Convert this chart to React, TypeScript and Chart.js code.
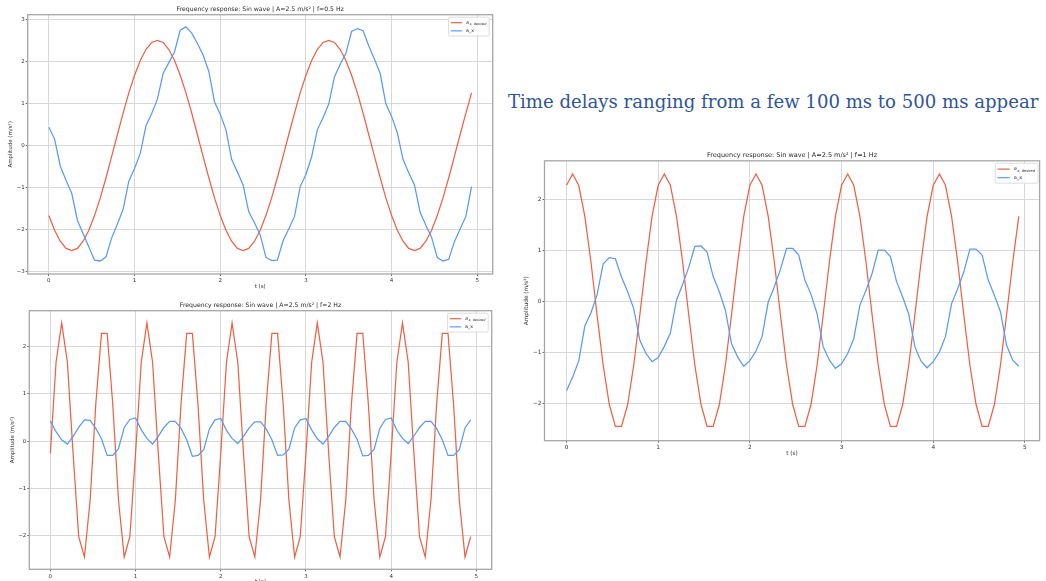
import React, { useEffect, useRef } from 'react';
import { Chart, registerables } from 'chart.js';
Chart.register(...registerables);

// sample times (s), 15 Hz sampling
const T = [0,0.067,0.133,0.2,0.267,0.333,0.4,0.467,0.533,0.6,0.667,0.733,0.8,0.867,0.933,
  1,1.067,1.133,1.2,1.267,1.333,1.4,1.467,1.533,1.6,1.667,1.733,1.8,1.867,1.933,
  2,2.067,2.133,2.2,2.267,2.333,2.4,2.467,2.533,2.6,2.667,2.733,2.8,2.867,2.933,
  3,3.067,3.133,3.2,3.267,3.333,3.4,3.467,3.533,3.6,3.667,3.733,3.8,3.867,3.933,
  4,4.067,4.133,4.2,4.267,4.333,4.4,4.467,4.533,4.6,4.667,4.733,4.8,4.867,4.933];

// f = 0.5 Hz
const DESIRED_05 = [
  -1.67,-2.02,-2.28,-2.45,-2.5,-2.45,-2.28,-2.02,-1.67,-1.25,-0.77,-0.26,0.26,0.77,1.25,
  1.67,2.02,2.28,2.45,2.5,2.45,2.28,2.02,1.67,1.25,0.77,0.26,-0.26,-0.77,-1.25,
  -1.67,-2.02,-2.28,-2.45,-2.5,-2.45,-2.28,-2.02,-1.67,-1.25,-0.77,-0.26,0.26,0.77,1.25,
  1.67,2.02,2.28,2.45,2.5,2.45,2.28,2.02,1.67,1.25,0.77,0.26,-0.26,-0.77,-1.25,
  -1.67,-2.02,-2.28,-2.45,-2.5,-2.45,-2.28,-2.02,-1.67,-1.25,-0.77,-0.26,0.26,0.77,1.25];
const AX_05 = [
  0.43,0.15,-0.49,-0.83,-1.14,-1.78,-2.1,-2.42,-2.73,-2.75,-2.65,-2.2,-1.87,-1.52,-0.85,
  -0.55,-0.19,0.46,0.76,1.1,1.71,1.97,2.23,2.74,2.82,2.67,2.43,2.15,1.76,1.04,
  0.74,0.37,-0.33,-0.63,-0.94,-1.58,-1.84,-2.13,-2.66,-2.74,-2.73,-2.27,-1.99,-1.69,-0.98,
  -0.69,-0.27,0.37,0.66,0.99,1.63,1.93,2.19,2.71,2.78,2.73,2.37,2.05,1.71,0.99,
  0.69,0.3,-0.33,-0.65,-0.94,-1.59,-1.9,-2.19,-2.67,-2.75,-2.71,-2.29,-1.99,-1.69,-0.98];

// f = 2 Hz
const DESIRED_2 = [
  -0.26,1.67,2.5,1.67,-0.26,-2.02,-2.45,-1.25,0.77,2.28,2.28,0.77,-1.25,-2.45,-2.02,
  -0.26,1.67,2.5,1.67,-0.26,-2.02,-2.45,-1.25,0.77,2.28,2.28,0.77,-1.25,-2.45,-2.02,
  -0.26,1.67,2.5,1.67,-0.26,-2.02,-2.45,-1.25,0.77,2.28,2.28,0.77,-1.25,-2.45,-2.02,
  -0.26,1.67,2.5,1.67,-0.26,-2.02,-2.45,-1.25,0.77,2.28,2.28,0.77,-1.25,-2.45,-2.02,
  -0.26,1.67,2.5,1.67,-0.26,-2.02,-2.45,-1.25,0.77,2.28,2.28,0.77,-1.25,-2.45,-2.02];
const AX_2 = [
  0.43,0.2,0.03,-0.06,0.1,0.29,0.45,0.44,0.27,0.05,-0.3,-0.3,-0.16,0.29,0.46,
  0.49,0.24,0.06,-0.06,0.1,0.29,0.42,0.42,0.27,0.03,-0.32,-0.3,-0.18,0.26,0.45,
  0.48,0.23,0.06,-0.05,0.1,0.28,0.41,0.41,0.26,0.03,-0.3,-0.29,-0.17,0.28,0.45,
  0.48,0.24,0.05,-0.06,0.1,0.29,0.42,0.42,0.26,0.04,-0.31,-0.3,-0.17,0.27,0.46,
  0.49,0.23,0.06,-0.05,0.11,0.29,0.42,0.42,0.27,0.03,-0.3,-0.3,-0.18,0.28,0.45];

// f = 1 Hz
const DESIRED_1 = [
  2.28,2.5,2.28,1.67,0.77,-0.26,-1.25,-2.02,-2.45,-2.45,-2.02,-1.25,-0.26,0.77,1.67,
  2.28,2.5,2.28,1.67,0.77,-0.26,-1.25,-2.02,-2.45,-2.45,-2.02,-1.25,-0.26,0.77,1.67,
  2.28,2.5,2.28,1.67,0.77,-0.26,-1.25,-2.02,-2.45,-2.45,-2.02,-1.25,-0.26,0.77,1.67,
  2.28,2.5,2.28,1.67,0.77,-0.26,-1.25,-2.02,-2.45,-2.45,-2.02,-1.25,-0.26,0.77,1.67,
  2.28,2.5,2.28,1.67,0.77,-0.26,-1.25,-2.02,-2.45,-2.45,-2.02,-1.25,-0.26,0.77,1.67];
const AX_1 = [
  -1.75,-1.48,-1.17,-0.48,-0.22,0.13,0.74,0.86,0.84,0.48,0.19,-0.14,-0.76,-1.02,-1.18,
  -1.1,-0.88,-0.62,0.03,0.34,0.67,1.08,1.09,0.97,0.49,0.19,-0.17,-0.83,-1.09,-1.27,
  -1.16,-0.97,-0.69,-0.01,0.29,0.63,1.04,1.04,0.91,0.42,0.14,-0.24,-0.89,-1.15,-1.31,
  -1.22,-1.02,-0.73,-0.07,0.22,0.55,1.01,1.01,0.88,0.39,0.09,-0.25,-0.89,-1.17,-1.3,
  -1.18,-0.99,-0.69,-0.04,0.25,0.58,1.03,1.03,0.91,0.42,0.12,-0.2,-0.86,-1.15,-1.27];

const X_TICKS = [0, 1, 2, 3, 4, 5];
const Y_TICKS_05 = [-3, -2, -1, 0, 1, 2, 3];
const Y_TICKS_2 = [-2, -1, 0, 1, 2];
const Y_TICKS_1 = [-2, -1, 0, 1, 2];

const TITLE_05 = 'Frequency response: Sin wave | A=2.5 m/s² | f=0.5 Hz';
const TITLE_2 = 'Frequency response: Sin wave | A=2.5 m/s² | f=2 Hz';
const TITLE_1 = 'Frequency response: Sin wave | A=2.5 m/s² | f=1 Hz';
const X_LABEL = 't (s)';
const Y_LABEL = 'Amplitude (m/s²)';
const LEG_DESIRED_MAIN = 'a';
const LEG_DESIRED_SUB = 'x, desired';
const LEG_AX = 'a_x';
const HEADLINE = 'Time delays ranging from a few 100 ms to 500 ms appear';

const RED = '#EE6146';
const BLUE = '#5A9BF0';
const GRID = '#d8d8d8';
const FRAME = '#a6a6a6';
const FONT = '"DejaVu Sans", sans-serif';

const fmt = (v: number) => (v < 0 ? '\u2212' + Math.abs(v) : String(v));

type Cfg = {
  left: number; top: number; width: number; height: number;
  area: { l: number; r: number; t: number; b: number };
  yTitleX: number;
  xMin: number; xMax: number; yMin: number; yMax: number;
  yTicks: number[];
  title: string;
  red: number[]; blue: number[];
  fs: number; legendGap: number;
};

function makeDecor(c: Cfg) {
  return {
    id: 'decor',
    afterDraw(chart: any) {
      const { ctx, chartArea: a } = chart;
      ctx.save();
      ctx.strokeStyle = FRAME;
      ctx.lineWidth = 1.3;
      ctx.strokeRect(a.left, a.top, a.right - a.left, a.bottom - a.top);
      // title
      ctx.fillStyle = '#262626';
      ctx.font = `${c.fs * 1.12}px ${FONT}`;
      ctx.textAlign = 'center';
      ctx.textBaseline = 'middle';
      ctx.fillText(c.title, (a.left + a.right) / 2, a.top - 5.5);
      // legend
      const f = c.fs * 0.87;
      const sub = f * 0.72;
      ctx.font = `italic ${f}px ${FONT}`;
      const wA = ctx.measureText(LEG_DESIRED_MAIN).width;
      ctx.font = `italic ${sub}px ${FONT}`;
      const wSub = ctx.measureText(LEG_DESIRED_SUB).width;
      ctx.font = `${f}px ${FONT}`;
      const wAx = ctx.measureText(LEG_AX).width;
      const lineLen = f * 2.4, padX = f * 0.45, gap = f * 0.8, rowH = f * 1.7;
      const w = padX + lineLen + gap + Math.max(wA + wSub + 0.5, wAx) + padX * 1.3;
      const h = rowH * 2 + f * 0.55;
      const bx = a.right - c.legendGap - w;
      const by = a.top + 2.5;
      ctx.beginPath();
      ctx.roundRect(bx, by, w, h, 1.5);
      ctx.fillStyle = 'rgba(255,255,255,0.85)';
      ctx.fill();
      ctx.strokeStyle = '#d4d4d4';
      ctx.lineWidth = 0.8;
      ctx.stroke();
      const rows = [
        { color: RED, y: by + f * 0.3 + rowH * 0.5 },
        { color: BLUE, y: by + f * 0.3 + rowH * 1.5 },
      ];
      rows.forEach((r) => {
        ctx.strokeStyle = r.color;
        ctx.lineWidth = 1.2;
        ctx.beginPath();
        ctx.moveTo(bx + padX, r.y);
        ctx.lineTo(bx + padX + lineLen, r.y);
        ctx.stroke();
      });
      const tx = bx + padX + lineLen + gap;
      ctx.fillStyle = '#262626';
      ctx.textAlign = 'left';
      ctx.textBaseline = 'middle';
      ctx.font = `italic ${f}px ${FONT}`;
      ctx.fillText(LEG_DESIRED_MAIN, tx, rows[0].y);
      ctx.font = `italic ${sub}px ${FONT}`;
      ctx.fillText(LEG_DESIRED_SUB, tx + wA + 0.5, rows[0].y + f * 0.3);
      ctx.font = `${f}px ${FONT}`;
      ctx.fillText(LEG_AX, tx, rows[1].y);
      ctx.restore();
    },
  };
}

function Plot({ c }: { c: Cfg }) {
  const ref = useRef<HTMLCanvasElement>(null);
  useEffect(() => {
    if (!ref.current) return;
    const padL = c.yTitleX - c.fs * 0.6;
    const tickFont = { family: FONT, size: c.fs };
    const chart = new Chart(ref.current, {
      type: 'line',
      data: {
        datasets: [
          { label: 'a_x, desired', data: T.map((t, i) => ({ x: t, y: c.red[i] })), borderColor: RED, backgroundColor: RED, borderWidth: 1.25, pointRadius: 0, tension: 0, order: 1 },
          { label: 'a_x', data: T.map((t, i) => ({ x: t, y: c.blue[i] })), borderColor: BLUE, backgroundColor: BLUE, borderWidth: 1.25, pointRadius: 0, tension: 0, order: 0 },
        ],
      },
      options: {
        responsive: false,
        animation: false,
        events: [],
        layout: { padding: { left: padL, right: c.width - c.area.r, top: c.area.t, bottom: 0 } },
        plugins: { legend: { display: false }, tooltip: { enabled: false }, title: { display: false } },
        scales: {
          x: {
            type: 'linear', min: c.xMin, max: c.xMax,
            afterBuildTicks: (s: any) => { s.ticks = X_TICKS.map((v) => ({ value: v })); },
            afterFit: (s: any) => { s.height = c.height - c.area.b; },
            ticks: { font: tickFont, color: '#333', padding: 1.5, maxRotation: 0, autoSkip: false, callback: (v: any) => fmt(Number(v)) },
            grid: { color: GRID, lineWidth: 1, tickLength: 2, tickColor: '#666' },
            border: { display: false },
            title: { display: true, text: X_LABEL, font: tickFont, color: '#333', padding: 0 },
          },
          y: {
            type: 'linear', min: c.yMin, max: c.yMax,
            afterBuildTicks: (s: any) => { s.ticks = c.yTicks.map((v) => ({ value: v })); },
            afterFit: (s: any) => { s.width = c.area.l - padL; },
            ticks: { font: tickFont, color: '#333', padding: 1, autoSkip: false, callback: (v: any) => fmt(Number(v)) },
            grid: { color: GRID, lineWidth: 1, tickLength: 2, tickColor: '#666' },
            border: { display: false },
            title: { display: true, text: Y_LABEL, font: tickFont, color: '#333', padding: 0 },
          },
        },
      } as any,
      plugins: [makeDecor(c)],
    });
    return () => chart.destroy();
  }, [c]);
  return (
    <canvas
      ref={ref}
      width={c.width}
      height={c.height}
      style={{ position: 'absolute', left: c.left, top: c.top, width: c.width, height: c.height, display: 'block' }}
    />
  );
}

const CFG_05: Cfg = {
  left: 0, top: 0, width: 500, height: 290,
  area: { l: 27.7, r: 492.7, t: 14.7, b: 274 }, yTitleX: 11,
  xMin: -0.247, xMax: 5.18, yMin: -3.06, yMax: 3.11, yTicks: Y_TICKS_05,
  title: TITLE_05, red: DESIRED_05, blue: AX_05, fs: 5.5, legendGap: 3.5,
};
const CFG_2: Cfg = {
  left: 0, top: 295, width: 500, height: 290,
  area: { l: 29.3, r: 491.7, t: 15.7, b: 274.3 }, yTitleX: 12.7,
  xMin: -0.247, xMax: 5.18, yMin: -2.71, yMax: 2.76, yTicks: Y_TICKS_2,
  title: TITLE_2, red: DESIRED_2, blue: AX_2, fs: 5.5, legendGap: 3.5,
};
const CFG_1: Cfg = {
  left: 520, top: 140, width: 526, height: 317,
  area: { l: 24.5, r: 519.6, t: 20.8, b: 300.7 }, yTitleX: 6,
  xMin: -0.24, xMax: 5.16, yMin: -2.73, yMax: 2.76, yTicks: Y_TICKS_1,
  title: TITLE_1, red: DESIRED_1, blue: AX_1, fs: 5.8, legendGap: 1.5,
};

export default function App() {
  return (
    <div style={{ position: 'fixed', left: 0, top: 0, width: 1046, height: 581, background: '#fff', overflow: 'hidden' }}>
      <Plot c={CFG_05} />
      <Plot c={CFG_2} />
      <Plot c={CFG_1} />
      <div
        style={{
          position: 'absolute', left: 508, top: 92, whiteSpace: 'nowrap',
          fontFamily: '"DejaVu Serif", serif', fontSize: 18.1, lineHeight: '20px', color: '#2F5597',
        }}
      >
        {HEADLINE}
      </div>
    </div>
  );
}
